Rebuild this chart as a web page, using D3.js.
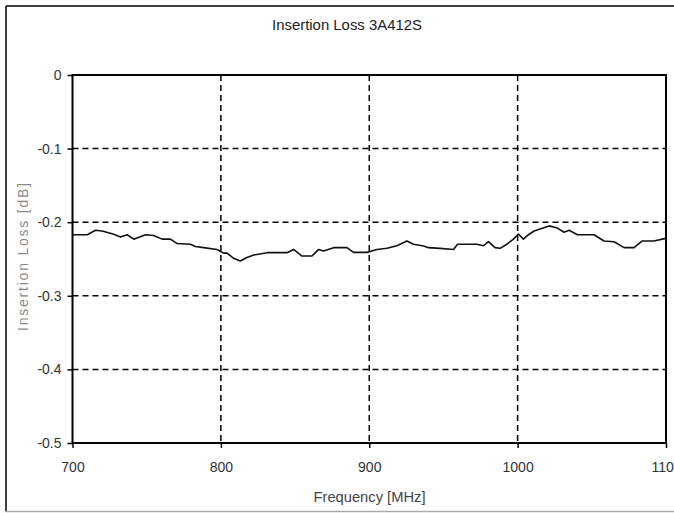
<!DOCTYPE html>
<html>
<head>
<meta charset="utf-8">
<script src="https://cdn.jsdelivr.net/npm/d3@7"></script>
<style>
  html, body { margin: 0; padding: 0; background: #fff; }
  svg { display: block; }
  text { font-family: "Liberation Sans", Arial, sans-serif; }
</style>
</head>
<body>
<svg id="chart" width="674" height="513"></svg>
<script>
const chartTitle = "Insertion Loss 3A412S";
const xTitle = "Frequency [MHz]";
const yTitle = "Insertion Loss [dB]";
const xTicks = [700, 800, 900, 1000, 1100];
const yTicks = [0, -0.1, -0.2, -0.3, -0.4, -0.5];
const yTickLabels = ["0", "-0.1", "-0.2", "-0.3", "-0.4", "-0.5"];
const xGrid = [800, 900, 1000];
const yGrid = [-0.1, -0.2, -0.3, -0.4];

const frequency = [700, 710, 715.5, 720, 727.8, 732.3, 736.8, 741.3, 749.2, 754.7,
  760.4, 766, 770.5, 779.5, 782.8, 788.4, 797.4, 801.9, 804.2, 808.6,
  813.1, 817.6, 822.1, 831.1, 844.6, 849, 854.7, 861.4, 865.9, 869.2,
  876, 885, 889.4, 898.5, 905.2, 911.9, 918.7, 925.4, 929.8, 936.6,
  939.9, 947.8, 956.8, 959.5, 972.5, 977, 980.3, 984.8, 988.2, 992.7,
  997.2, 1000.5, 1003.9, 1007.3, 1011.1, 1015.6, 1021.2, 1026.8, 1031.3, 1034.7,
  1040.3, 1051.5, 1058.2, 1065, 1071.7, 1078.5, 1084, 1091.9, 1097.5, 1100];
const insertionLoss = [-0.217, -0.217, -0.211, -0.212, -0.2165, -0.220, -0.217, -0.223, -0.217, -0.218,
  -0.223, -0.223, -0.229, -0.230, -0.233, -0.2346, -0.237, -0.242, -0.242, -0.249,
  -0.2527, -0.248, -0.2446, -0.2414, -0.2414, -0.237, -0.246, -0.246, -0.237, -0.239,
  -0.2346, -0.2346, -0.241, -0.241, -0.237, -0.2355, -0.232, -0.2255, -0.230, -0.2323,
  -0.2346, -0.2355, -0.237, -0.230, -0.230, -0.232, -0.2265, -0.2346, -0.2355, -0.230,
  -0.223, -0.216, -0.223, -0.217, -0.212, -0.209, -0.205, -0.208, -0.2137, -0.211,
  -0.217, -0.217, -0.2255, -0.2265, -0.2346, -0.2346, -0.2255, -0.2255, -0.223, -0.222];

const svg = d3.select("#chart");
const W = 674, H = 513;
const plot = { left: 72.5, right: 666, top: 75, bottom: 443 };

const x = d3.scaleLinear().domain([700, 1100]).range([plot.left, plot.right]);
const y = d3.scaleLinear().domain([-0.5, 0]).range([plot.bottom, plot.top]);

// outer frame
svg.append("line").attr("x1", 6).attr("x2", 6).attr("y1", 6).attr("y2", 511.5)
  .attr("stroke", "#000").attr("stroke-width", 1.5);
svg.append("line").attr("x1", 6).attr("x2", W).attr("y1", 6).attr("y2", 6)
  .attr("stroke", "#000").attr("stroke-width", 1.5);
svg.append("line").attr("x1", 6).attr("x2", W).attr("y1", 511.5).attr("y2", 511.5)
  .attr("stroke", "#aaa").attr("stroke-width", 1.5);

// grid
svg.append("g").selectAll("line").data(xGrid).join("line")
  .attr("x1", d => x(d)).attr("x2", d => x(d))
  .attr("y1", plot.top).attr("y2", plot.bottom)
  .attr("stroke", "#000").attr("stroke-width", 1.5).attr("stroke-dasharray", "6,4");
svg.append("g").selectAll("line").data(yGrid).join("line")
  .attr("x1", plot.left).attr("x2", plot.right)
  .attr("y1", d => y(d)).attr("y2", d => y(d))
  .attr("stroke", "#000").attr("stroke-width", 1.5).attr("stroke-dasharray", "6,4");

// axes
const gy = svg.append("g").attr("transform", `translate(${plot.left},0)`)
  .call(d3.axisLeft(y).tickValues(yTicks).tickFormat((d, i) => yTickLabels[i]).tickSize(5).tickPadding(6));
const gx = svg.append("g").attr("transform", `translate(0,${plot.bottom})`)
  .call(d3.axisBottom(x).tickValues(xTicks).tickFormat(d3.format("d")).tickSize(5).tickPadding(14));
[gx, gy].forEach(g => {
  g.select(".domain").remove();
  g.selectAll(".tick line").attr("stroke", "#000").attr("stroke-width", 1.5);
  g.selectAll(".tick text").attr("fill", "#333").attr("font-size", 14)
    .attr("font-family", "'Liberation Sans', Arial, sans-serif");
});

// plot frame
svg.append("rect").attr("x", plot.left).attr("y", plot.top)
  .attr("width", plot.right - plot.left).attr("height", plot.bottom - plot.top)
  .attr("fill", "none").attr("stroke", "#000").attr("stroke-width", 2);

// data line
const line = d3.line().x((d, i) => x(frequency[i])).y(d => y(d));
svg.append("path").datum(insertionLoss)
  .attr("d", line).attr("fill", "none").attr("stroke", "#111")
  .attr("stroke-width", 1.6).attr("stroke-linejoin", "round");

// titles
svg.append("text").attr("x", 347).attr("y", 29.5).attr("text-anchor", "middle")
  .attr("font-size", 14).attr("fill", "#222")
  .attr("textLength", 150).attr("lengthAdjust", "spacingAndGlyphs").text(chartTitle);
svg.append("text").attr("x", 369.5).attr("y", 502).attr("text-anchor", "middle")
  .attr("font-size", 14).attr("fill", "#444")
  .attr("textLength", 112).attr("lengthAdjust", "spacingAndGlyphs").text(xTitle);
svg.append("text").attr("transform", "translate(28,257) rotate(-90)")
  .attr("text-anchor", "middle").attr("font-size", 14).attr("fill", "#8a8a8a")
  .attr("textLength", 148).attr("lengthAdjust", "spacing").text(yTitle);
</script>
</body>
</html>
